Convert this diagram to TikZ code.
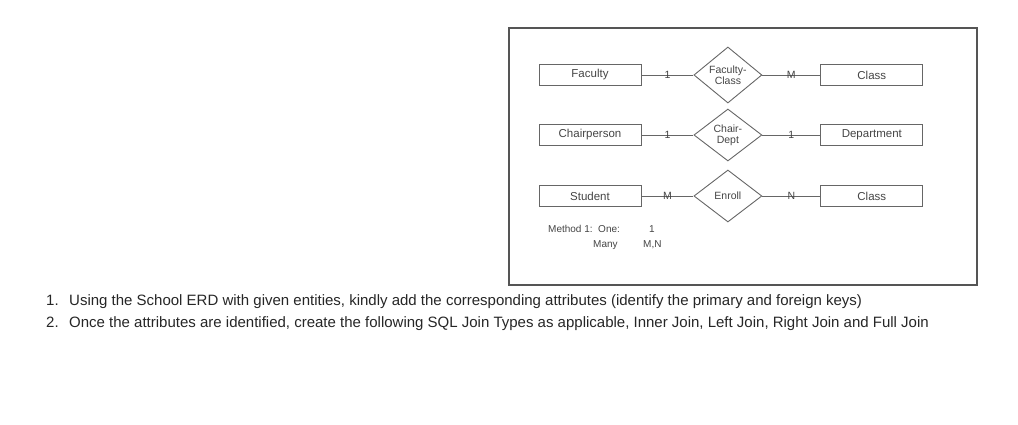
\documentclass[tikz,border=0pt]{standalone}
\usepackage{fontspec}
\setmainfont{Liberation Sans}
\usetikzlibrary{positioning,shapes.geometric}
\definecolor{erdgray}{HTML}{666666}
\definecolor{erdtext}{HTML}{444444}
\definecolor{frameline}{HTML}{555555}

\begin{document}
\begin{tikzpicture}[
    x=1pt, y=-1pt,
    entity/.style={rectangle, draw=erdgray, line width=0.9pt, text=erdtext, font=\fontsize{11.5}{13}\selectfont, minimum width=102pt, minimum height=21pt, inner sep=0pt},
    rel/.style={diamond, draw=erdgray, line width=0.9pt, text=erdtext, align=center, font=\fontsize{10.5}{11}\selectfont, minimum width=68pt, minimum height=52pt, inner sep=0pt},
    link/.style={draw=erdgray, line width=0.9pt},
    card/.style={midway, text=erdtext, font=\fontsize{10.5}{12}\selectfont, inner sep=0pt},
    note/.style={text=erdtext, font=\fontsize{10}{12}\selectfont, inner sep=0pt, anchor=base west},
    item/.style={text=black!85, font=\fontsize{15}{18}\selectfont, inner sep=0pt, anchor=base west}
  ]
    \useasboundingbox (0,0) rectangle (1018,425);
    % frame round the ERD
    \draw[frameline, line width=1.3pt] (509,28) rectangle (977,285);

    \node[entity] (faculty) at (590,75) {Faculty};
    \node[rel, right=52pt of faculty] (fc) {Faculty-\\Class};
    \node[entity, right=58pt of fc] (class1) {Class};

    \node[entity] (chair) at (590,135) {Chairperson};
    \node[rel, right=52pt of chair] (cd) {Chair-\\Dept};
    \node[entity, right=58pt of cd] (dept) {Department};

    \node[entity] (student) at (590,196) {Student};
    \node[rel, right=52pt of student] (enroll) {Enroll};
    \node[entity, right=58pt of enroll] (class2) {Class};

    \draw[link] (faculty) -- node[card] {1} (fc);
    \draw[link] (fc) -- node[card] {M} (class1);
    \draw[link] (chair) -- node[card] {1} (cd);
    \draw[link] (cd) -- node[card] {1} (dept);
    \draw[link] (student) -- node[card] {M} (enroll);
    \draw[link] (enroll) -- node[card] {N} (class2);

    \node[note] (method) at (548,232) {Method 1:\ \ One:};
    \node[note] (one) at (649,232) {1};
    \node[note] (many) at (593,247) {Many};
    \node[note] (mn) at (643,247) {M,N};

    \node[item] (n1) at (46,305) {1.};
    \node[item] (t1) at (69,305) {Using the School ERD with given entities, kindly add the corresponding attributes (identify the primary and foreign keys)};
    \node[item] (n2) at (46,327) {2.};
    \node[item] (t2) at (69,327) {Once the attributes are identified, create the following SQL Join Types as applicable, Inner Join, Left Join, Right Join and Full Join};
  \end{tikzpicture}
\end{document}
